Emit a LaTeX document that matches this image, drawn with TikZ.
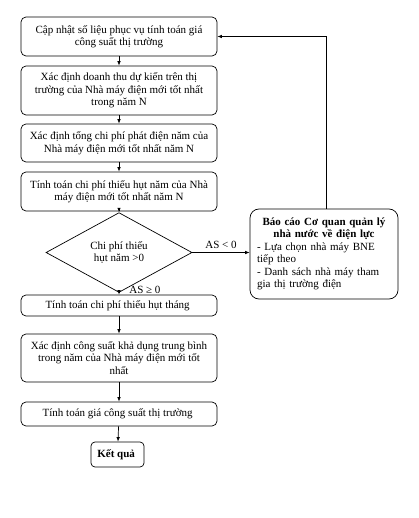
\documentclass[tikz,border=0pt]{standalone}
\usepackage{fontspec}
\setmainfont{Liberation Serif}
\usetikzlibrary{shapes.geometric, arrows.meta, positioning}

\begin{document}
\begin{tikzpicture}[
    x=1pt, y=-1pt,
    >={Latex[length=4.5pt,width=3.5pt]},
    font=\fontsize{11}{12.5}\selectfont,
    % Define styles for the elements
    process box/.style={
        rectangle,
        rounded corners=5pt,
        draw,
        line width=0.7pt,
        align=center,
        inner sep=2pt,
        minimum width=196pt,
        minimum height=#1      % Height passed per box
    },
    decision box/.style={
        diamond,
        draw,
        line width=0.7pt,
        align=center,
        inner sep=0pt,
        minimum width=146pt,
        minimum height=61pt
    },
    report box/.style={
        rectangle,
        rounded corners=9pt,
        draw,
        line width=0.7pt,
        text width=134pt,
        inner xsep=7pt,
        minimum height=90pt
    },
    flow line/.style={
        ->,
        line width=0.7pt
    }
]
    \useasboundingbox (0,0) rectangle (418,518);

    % --- Main column ---
    \node[process box=39pt] (update) at (119,36.5) {
        Cập nhật số liệu phục vụ tính toán giá\\
        công suất thị trường
    };
    \node[process box=49pt] (revenue) at (119,90.5) {
        Xác định doanh thu dự kiến trên thị\\
        trường của Nhà máy điện mới tốt nhất\\
        trong năm N
    };
    \node[process box=38pt] (cost) at (119,143) {
        Xác định tổng chi phí phát điện năm của\\
        Nhà máy điện mới tốt nhất năm N
    };
    \node[process box=39pt] (deficit) at (119,191.5) {
        Tính toán chi phí thiếu hụt năm của Nhà\\
        máy điện mới tốt nhất năm N
    };

    % --- Decision ---
    \node[decision box] (check) at (119,252.5) {
        Chi phí thiếu\\
        hụt năm >0
    };

    \node[process box=21pt] (monthly) at (119,305.5) {
        Tính toán chi phí thiếu hụt tháng
    };
    \node[process box=48pt] (capacity) at (119,358) {
        Xác định công suất khả dụng trung bình\\
        trong năm của Nhà máy điện mới tốt\\
        nhất
    };
    \node[process box=24pt] (price) at (119,414) {
        Tính toán giá công suất thị trường
    };
    \node[process box=25pt, minimum width=53pt, rounded corners=4pt] (result) at (117.5,454.5) {
        \textbf{Kết quả}
    };

    % --- Report branch ---
    \node[report box] (report) at (324,254) {
        \centering\textbf{Báo cáo Cơ quan quản lý}\\
        \textbf{nhà nước về điện lực}\par
        \raggedright - Lựa chọn nhà máy BNE\\
        tiếp theo\\
        - Danh sách nhà máy tham\\
        gia thị trường điện
    };

    % --- Connections ---
    \draw[flow line] (update) -- (revenue);
    \draw[flow line] (revenue) -- (cost);
    \draw[flow line] (cost) -- (deficit);
    \draw[flow line] (deficit) -- (check);
    \draw[flow line] (check) -- node[pos=1, anchor=south west, xshift=9pt, inner sep=1pt] {AS ≥ 0} (monthly);
    \draw[flow line] (monthly) -- (capacity);
    \draw[flow line] (capacity) -- (price);
    \draw[flow line] (price) -- (result);

    % AS < 0 goes to the report, then back to the top
    \draw[flow line] (check.east) -- node[above, pos=0.5] {AS < 0} (check.east -| report.west);
    \draw[flow line] ([xshift=2pt]report.north) |- (update.east);

\end{tikzpicture}
\end{document}
